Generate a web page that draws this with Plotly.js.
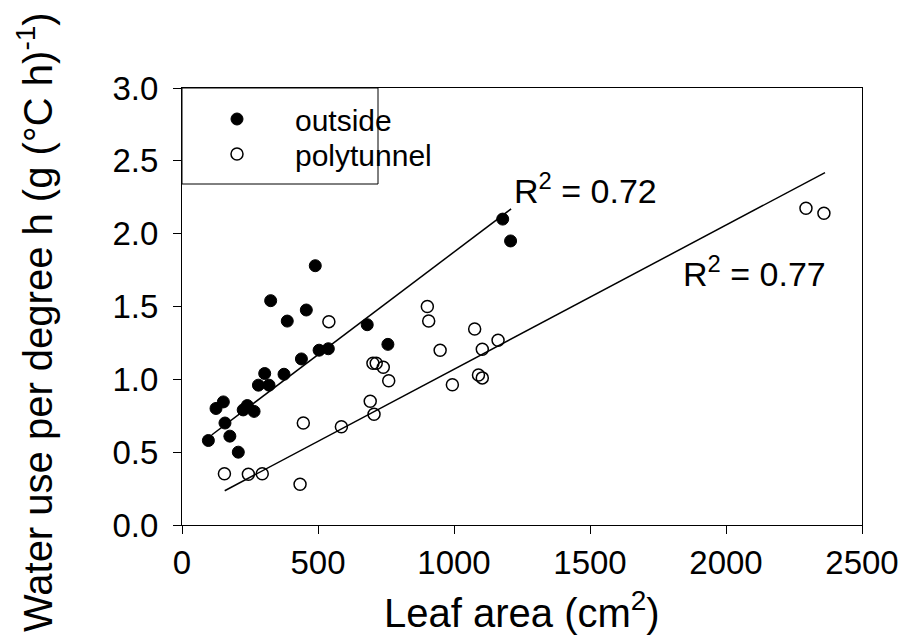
<!DOCTYPE html>
<html><head><meta charset="utf-8">
<script src="https://cdn.plot.ly/plotly-3.0.1.min.js"></script>
<style>html,body{margin:0;padding:0;background:#fff}#chart{width:904px;height:640px}</style>
</head><body><div id="chart"></div>
<script>
// Leaf area (cm2) and water use per degree hour
const outsideX = [97,125,152,158,176,207,225,240,265,281,304,320,326,375,387,439,457,490,504,538,681,757,1179,1208];
const outsideY = [0.58,0.80,0.845,0.70,0.61,0.50,0.79,0.82,0.78,0.96,1.04,0.96,1.54,1.035,1.40,1.14,1.476,1.78,1.20,1.21,1.375,1.24,2.10,1.95];
const polyX = [156,244,295,434,446,540,586,692,706,702,714,740,760,902,907,949,994,1076,1090,1104,1104,1162,2294,2360];
const polyY = [0.352,0.348,0.352,0.28,0.70,1.396,0.675,0.85,0.76,1.11,1.11,1.083,0.99,1.50,1.40,1.20,0.963,1.345,1.03,1.01,1.206,1.268,2.174,2.14];
// fitted regression lines (end points)
const outsideFitX = [109, 1210];
const outsideFitY = [0.618, 2.17];
const polyFitX = [157, 2364];
const polyFitY = [0.235, 2.419];
const r2Labels = ['R<sup>2</sup> = 0.72', 'R<sup>2</sup> = 0.77'];
const xTicks = [0, 500, 1000, 1500, 2000, 2500];
const yTicks = [0, 0.5, 1.0, 1.5, 2.0, 2.5, 3.0];
const yTickText = ['0.0', '0.5', '1.0', '1.5', '2.0', '2.5', '3.0'];

const FONT = 'Liberation Sans, Arial, Helvetica, sans-serif';
const PLOT_L = 182, PLOT_W = 680, PLOT_B = 525, PLOT_H = 437;
const px2x = p => (p - PLOT_L) / PLOT_W;
const px2y = p => (PLOT_B - p) / PLOT_H;

const traces = [
  {x: outsideX, y: outsideY, type: 'scatter', mode: 'markers', name: 'outside', legend: 'legend',
   marker: {symbol: 'circle', size: 12, color: '#000', line: {color: '#000', width: 1}}},
  {x: polyX, y: polyY, type: 'scatter', mode: 'markers', name: 'polytunnel', legend: 'legend2',
   marker: {symbol: 'circle-open', size: 12, color: '#000', line: {color: '#000', width: 1.5}}},
  {x: outsideFitX, y: outsideFitY, type: 'scatter', mode: 'lines', showlegend: false,
   line: {color: '#000', width: 1.5}, hoverinfo: 'skip'},
  {x: polyFitX, y: polyFitY, type: 'scatter', mode: 'lines', showlegend: false,
   line: {color: '#000', width: 1.5}, hoverinfo: 'skip'}
];

const legendBase = {xanchor: 'left', yanchor: 'middle', bgcolor: 'rgba(0,0,0,0)',
  borderwidth: 0, font: {family: FONT, size: 30, color: '#000'}, itemwidth: 106};

const layout = {
  width: 904, height: 640,
  margin: {l: 182, r: 42, t: 88, b: 115},
  paper_bgcolor: '#fff', plot_bgcolor: '#fff',
  font: {family: FONT, color: '#000', size: 33},
  showlegend: true,
  legend: Object.assign({}, legendBase, {x: px2x(179), y: px2y(119)}),
  legend2: Object.assign({}, legendBase, {x: px2x(179), y: px2y(154)}),
  xaxis: {range: [0, 2500], tickvals: xTicks, ticks: 'outside', ticklen: 8, tickwidth: 1,
    tickcolor: '#000', showline: true, linecolor: '#000', linewidth: 1, mirror: true,
    showgrid: false, zeroline: false, tickfont: {size: 33}},
  yaxis: {range: [0, 3], tickvals: yTicks, ticktext: yTickText, ticks: 'outside', ticklen: 8,
    tickwidth: 1, tickcolor: '#000', showline: true, linecolor: '#000', linewidth: 1,
    mirror: true, showgrid: false, zeroline: false, tickfont: {size: 33}, ticklabelstandoff: 8},
  shapes: [
    {type: 'rect', xref: 'paper', yref: 'paper', x0: 0, x1: px2x(378), y0: 1, y1: px2y(184),
     line: {color: '#000', width: 1}}
  ],
  annotations: [
    {text: r2Labels[0], x: 1485, y: 2.31, xref: 'x', yref: 'y', showarrow: false,
     xanchor: 'center', yanchor: 'middle', font: {size: 34}},
    {text: r2Labels[1], x: 2103, y: 1.737, xref: 'x', yref: 'y', showarrow: false,
     xanchor: 'center', yanchor: 'middle', font: {size: 34}},
    {text: 'Leaf area (cm<sup>2</sup>)', xref: 'paper', yref: 'paper',
     x: px2x(522), y: px2y(610), showarrow: false,
     xanchor: 'center', yanchor: 'middle', font: {size: 40}},
    {text: 'Water use per degree h (g (°C h)<sup>-1</sup>)', xref: 'paper', yref: 'paper',
     x: px2x(35), y: px2y(322), textangle: -90, showarrow: false,
     xanchor: 'center', yanchor: 'middle', font: {size: 40}}
  ]
};

Plotly.newPlot('chart', traces, layout, {displayModeBar: false, staticPlot: true});
</script>
</body></html>
